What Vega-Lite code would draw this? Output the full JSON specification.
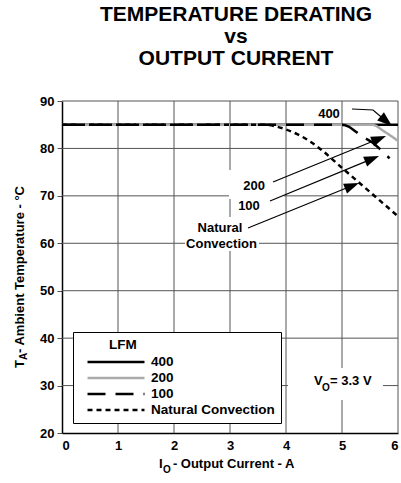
{
  "$schema": "https://vega.github.io/schema/vega-lite/v6.json",
  "width": 336,
  "height": 332,
  "autosize": "none",
  "padding": {"left": 62, "top": 101, "right": 3, "bottom": 50},
  "title": {
    "text": ["TEMPERATURE DERATING", "vs", "OUTPUT CURRENT"],
    "fontSize": 21,
    "lineHeight": 22,
    "font": "Liberation Sans",
    "fontWeight": "bold",
    "color": "black",
    "anchor": "middle",
    "dx": 6,
    "offset": 26
  },
  "config": {
    "font": "Liberation Sans",
    "view": {"stroke": null},
    "axis": {
      "labelFont": "Liberation Sans",
      "labelFontWeight": "bold",
      "labelFontSize": 13,
      "labelColor": "black",
      "domainColor": "black",
      "domainWidth": 1.5,
      "tickColor": "#555555",
      "grid": false
    }
  },
  "datasets": {
    "xgrid": [{"v": 1}, {"v": 2}, {"v": 3}, {"v": 4}, {"v": 5}, {"v": 6}],
    "ygrid": [{"v": 30}, {"v": 40}, {"v": 50}, {"v": 60}, {"v": 70}, {"v": 80}, {"v": 90}],
    "curves": [
      {"series": "400", "I": 0, "T": 85},
      {"series": "400", "I": 6, "T": 85},
      {"series": "200", "I": 0, "T": 85},
      {"series": "200", "I": 5.54, "T": 85},
      {"series": "200", "I": 5.75, "T": 83.6},
      {"series": "200", "I": 6, "T": 81.6},
      {"series": "100", "I": 0, "T": 85},
      {"series": "100", "I": 5.0, "T": 85},
      {"series": "100", "I": 5.12, "T": 84.6},
      {"series": "100", "I": 5.25, "T": 83.5},
      {"series": "100", "I": 5.35, "T": 82.6},
      {"series": "100", "I": 5.55, "T": 81.2},
      {"series": "100", "I": 5.7, "T": 79.6},
      {"series": "100", "I": 5.85, "T": 77.9},
      {"series": "Natural Convection", "I": 0, "T": 85},
      {"series": "Natural Convection", "I": 3.6, "T": 85},
      {"series": "Natural Convection", "I": 3.8, "T": 84.7},
      {"series": "Natural Convection", "I": 4.0, "T": 84.0},
      {"series": "Natural Convection", "I": 4.2, "T": 83.0},
      {"series": "Natural Convection", "I": 4.4, "T": 81.7},
      {"series": "Natural Convection", "I": 4.6, "T": 80.0},
      {"series": "Natural Convection", "I": 5.0, "T": 75.9},
      {"series": "Natural Convection", "I": 5.5, "T": 70.8},
      {"series": "Natural Convection", "I": 6.0, "T": 65.7}
    ],
    "arrows": [
      {"id": "400", "ord": 1, "x": 5.179, "y": 88.31},
      {"id": "400", "ord": 2, "x": 5.554, "y": 88.1},
      {"id": "400", "ord": 3, "x": 5.791, "y": 85.74},
      {"id": "200", "ord": 1, "x": 3.768, "y": 72.92},
      {"id": "200", "ord": 2, "x": 5.662, "y": 82.03},
      {"id": "100", "ord": 1, "x": 3.714, "y": 68.92},
      {"id": "100", "ord": 2, "x": 5.537, "y": 77.8},
      {"id": "NC", "ord": 1, "x": 3.321, "y": 63.22},
      {"id": "NC", "ord": 2, "x": 5.179, "y": 72.12}
    ],
    "heads": [
      {"id": "400", "x": 5.791, "y": 85.74, "dir": 40},
      {"id": "200", "x": 5.662, "y": 82.03, "dir": 337.8},
      {"id": "100", "x": 5.537, "y": 77.8, "dir": 337.6},
      {"id": "NC", "x": 5.179, "y": 72.12, "dir": 337.9}
    ],
    "boxes": [
      {"box": "VO", "xa": 4.036, "xb": 5.732, "ya": 26.96, "yb": 33.7},
      {"box": "NC", "xa": 2.196, "xb": 3.518, "ya": 58.37, "yb": 65.54},
      {"box": "200", "xa": 2.982, "xb": 3.964, "ya": 69.34, "yb": 75.45},
      {"box": "100", "xa": 3.071, "xb": 3.964, "ya": 66.18, "yb": 69.34}
    ],
    "centerLabels": [
      {"text": "400", "x": 4.768, "y": 86.4},
      {"text": "200", "x": 3.429, "y": 71.24},
      {"text": "100", "x": 3.339, "y": 67.02},
      {"text": "Natural", "x": 2.821, "y": 62.38},
      {"text": "Convection", "x": 2.848, "y": 59.0}
    ],
    "leftLabels": [
      {"text": "V", "role": "main", "x": 4.5, "y": 30.12},
      {"text": "O", "role": "sub", "x": 4.643, "y": 28.86},
      {"text": "= 3.3 V", "role": "main", "x": 4.786, "y": 30.12},
      {"text": "I", "role": "main", "x": 1.732, "y": 12.62},
      {"text": "O", "role": "sub", "x": 1.804, "y": 11.57},
      {"text": " - Output Current - A", "role": "main", "x": 1.98, "y": 12.62}
    ],
    "rotLabels": [
      {"text": "T", "role": "main", "x": -0.679, "y": 33.7},
      {"text": "A", "role": "sub", "x": -0.625, "y": 35.39},
      {"text": " - Ambient Temperature - °C", "role": "main", "x": -0.679, "y": 36.87}
    ]
  },
  "layer": [
    {
      "data": {"name": "xgrid"},
      "mark": {"type": "rule", "color": "#555555", "strokeWidth": 1},
      "encoding": {
        "x": {"field": "v", "type": "quantitative", "scale": {"domain": [0, 6], "nice": false, "zero": false},
              "axis": {"values": [0, 1, 2, 3, 4, 5, 6], "title": null, "ticks": false, "labelPadding": 6, "grid": false, "format": "d"}},
        "y": {"datum": 20, "type": "quantitative", "scale": {"domain": [20, 90], "nice": false, "zero": false},
              "axis": {"values": [20, 30, 40, 50, 60, 70, 80, 90], "title": null, "ticks": true, "tickSize": 5, "labelPadding": 3, "grid": false}},
        "y2": {"datum": 90}
      }
    },
    {
      "data": {"name": "ygrid"},
      "mark": {"type": "rule", "color": "#555555", "strokeWidth": 1},
      "encoding": {
        "y": {"field": "v", "type": "quantitative"},
        "x": {"datum": 0, "type": "quantitative"},
        "x2": {"datum": 6}
      }
    },
    {
      "data": {"name": "boxes"},
      "mark": {"type": "rect", "fill": "white"},
      "encoding": {
        "x": {"field": "xa", "type": "quantitative"},
        "x2": {"field": "xb"},
        "y": {"field": "ya", "type": "quantitative"},
        "y2": {"field": "yb"}
      }
    },
    {
      "data": {"name": "curves"},
      "mark": {"type": "line", "strokeWidth": 2.5, "interpolate": "monotone"},
      "encoding": {
        "x": {"field": "I", "type": "quantitative"},
        "y": {"field": "T", "type": "quantitative"},
        "color": {
          "field": "series", "type": "nominal",
          "scale": {"domain": ["400", "200", "100", "Natural Convection"], "range": ["#000000", "#aaaaaa", "#000000", "#000000"]},
          "legend": {
            "title": "\u2800\u2800\u2800LFM",
            "orient": "none",
            "legendX": 11,
            "legendY": 231,
            "padding": 6,
            "strokeColor": "black",
            "fillColor": "white",
            "symbolType": "M-1,0H1",
            "symbolSize": 3249,
            "symbolStrokeWidth": 2.5,
            "symbolOffset": 7,
            "clipHeight": 13,
            "rowPadding": 2,
            "labelOffset": 5,
            "labelFont": "Liberation Sans",
            "labelFontSize": 13.5,
            "labelFontWeight": "bold",
            "labelColor": "black",
            "titleFont": "Liberation Sans",
            "titleFontSize": 13.5,
            "titleFontWeight": "bold",
            "titleColor": "black",
            "titlePadding": 4
          }
        },
        "strokeDash": {
          "field": "series", "type": "nominal",
          "scale": {"domain": ["400", "200", "100", "Natural Convection"], "range": [[1, 0], [1, 0], [18, 10], [5, 4]]},
          "legend": {"title": "\u2800\u2800\u2800LFM"}
        }
      }
    },
    {
      "data": {"name": "arrows"},
      "mark": {"type": "line", "color": "black", "strokeWidth": 1.2},
      "encoding": {
        "x": {"field": "x", "type": "quantitative"},
        "y": {"field": "y", "type": "quantitative"},
        "detail": {"field": "id"},
        "order": {"field": "ord"}
      }
    },
    {
      "data": {"name": "heads"},
      "mark": {"type": "point", "shape": "M1,0L-1,-0.7L-1,0.7Z", "filled": true, "color": "black", "opacity": 1, "size": 225, "strokeWidth": 0},
      "encoding": {
        "x": {"field": "x", "type": "quantitative"},
        "y": {"field": "y", "type": "quantitative"},
        "angle": {"field": "dir", "type": "quantitative", "scale": null}
      }
    },
    {
      "data": {"name": "centerLabels"},
      "mark": {"type": "text", "align": "center", "baseline": "alphabetic", "fontWeight": "bold", "fontSize": 13, "color": "black"},
      "encoding": {
        "x": {"field": "x", "type": "quantitative"},
        "y": {"field": "y", "type": "quantitative"},
        "text": {"field": "text"}
      }
    },
    {
      "data": {"name": "leftLabels"},
      "mark": {"type": "text", "align": "left", "baseline": "alphabetic", "fontWeight": "bold", "color": "black"},
      "encoding": {
        "x": {"field": "x", "type": "quantitative"},
        "y": {"field": "y", "type": "quantitative"},
        "text": {"field": "text"},
        "size": {"field": "role", "type": "nominal", "scale": {"domain": ["main", "sub"], "range": [13, 10]}, "legend": null}
      }
    },
    {
      "data": {"name": "rotLabels"},
      "mark": {"type": "text", "align": "left", "baseline": "alphabetic", "fontWeight": "bold", "color": "black", "angle": 270},
      "encoding": {
        "x": {"field": "x", "type": "quantitative"},
        "y": {"field": "y", "type": "quantitative"},
        "text": {"field": "text"},
        "size": {"field": "role", "type": "nominal", "scale": {"domain": ["main", "sub"], "range": [13, 10]}, "legend": null}
      }
    }
  ]
}
